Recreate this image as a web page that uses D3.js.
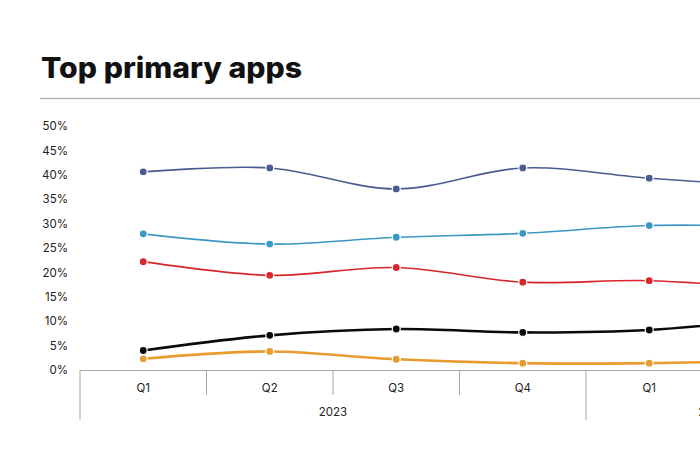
<!DOCTYPE html>
<html>
<head>
<meta charset="utf-8">
<script src="https://cdn.jsdelivr.net/npm/d3@7/dist/d3.min.js"></script>
<style>
  html, body { margin: 0; padding: 0; background: #fff; }
  svg { display: block; }
</style>
</head>
<body>
<svg id="chart" width="700" height="450"></svg>
<script>
// ---- data ----
const quarters = ["Q1", "Q2", "Q3", "Q4", "Q1", "Q2"];
const years = ["2023", "2023", "2023", "2023", "2024", "2024"];
const yearLabels = ["2023", "2024"];
const yTicks = [0, 5, 10, 15, 20, 25, 30, 35, 40, 45, 50];

const seriesBlue   = [40.6, 41.4, 37.1, 41.4, 39.3, 37.6];
const seriesCyan   = [27.9, 25.8, 27.2, 28.0, 29.6, 29.4];
const seriesRed    = [22.2, 19.4, 21.0, 18.0, 18.3, 16.6];
const seriesBlack  = [4.0, 7.1, 8.4, 7.7, 8.2, 10.6];
const seriesOrange = [2.3, 3.8, 2.2, 1.4, 1.4, 2.0];

const series = [
  { values: seriesBlue,   color: "#4a5b91", width: 1.6 },
  { values: seriesCyan,   color: "#3a98c2", width: 1.6 },
  { values: seriesRed,    color: "#d9262b", width: 1.6 },
  { values: seriesBlack,  color: "#0a0a0a", width: 2.6 },
  { values: seriesOrange, color: "#e89b2e", width: 2.6 }
];

// ---- layout ----
const svg = d3.select("#chart");
const plotLeft = 80, bandW = 126.5;
const plotTop = 126, plotBottom = 370;

svg.append("text")
  .attr("x", 41).attr("y", 78)
  .attr("font-family", "Inter, 'Noto Sans', sans-serif")
  .attr("font-weight", 800)
  .attr("font-size", 28)
  .attr("fill", "#111")
  .attr("textLength", 261)
  .attr("lengthAdjust", "spacingAndGlyphs")
  .text("Top primary apps");

svg.append("line")
  .attr("x1", 40).attr("x2", 700).attr("y1", 98.5).attr("y2", 98.5)
  .attr("stroke", "#b5b5b5").attr("stroke-width", 1.5);

const x = d3.scaleBand()
  .domain(d3.range(quarters.length))
  .range([plotLeft, plotLeft + bandW * quarters.length])
  .padding(0);

const y = d3.scaleLinear().domain([0, 50]).range([plotBottom, plotTop]);

// y axis labels
const yAxis = d3.axisLeft(y)
  .tickValues(yTicks)
  .tickSize(0)
  .tickPadding(0)
  .tickFormat(d => d + "%");
const yg = svg.append("g").attr("transform", "translate(68,0)").call(yAxis);
yg.select(".domain").remove();
yg.selectAll("text")
  .attr("font-family", "Inter, 'Noto Sans', sans-serif")
  .attr("font-size", 11.5)
  .attr("fill", "#222");

// x axis: quarter labels
const xAxis = d3.axisBottom(x).tickSize(0).tickPadding(0).tickFormat(i => quarters[i]);
const xg = svg.append("g").attr("transform", `translate(0,${plotBottom})`).call(xAxis);
xg.select(".domain").remove();
xg.selectAll("text")
  .attr("dy", "22")
  .attr("font-family", "Inter, 'Noto Sans', sans-serif")
  .attr("font-size", 11.5)
  .attr("fill", "#222");

// table lines
const gridColor = "#a8a8a8";
svg.append("line")
  .attr("x1", plotLeft).attr("x2", 700).attr("y1", plotBottom + 0.5).attr("y2", plotBottom + 0.5)
  .attr("stroke", gridColor).attr("stroke-width", 1.2);

d3.range(quarters.length + 1).forEach(i => {
  const xx = plotLeft + bandW * i;
  const isYearBoundary = i === 0 || i === quarters.length || years[i] !== years[i - 1];
  svg.append("line")
    .attr("x1", xx).attr("x2", xx)
    .attr("y1", plotBottom).attr("y2", isYearBoundary ? 420 : 395)
    .attr("stroke", gridColor).attr("stroke-width", 1);
});

// year labels
yearLabels.forEach(yr => {
  const idx = years.map((v, i) => v === yr ? i : -1).filter(i => i >= 0);
  const x0 = x(idx[0]);
  const x1 = x(idx[idx.length - 1]) + x.bandwidth();
  svg.append("text")
    .attr("x", (x0 + x1) / 2).attr("y", 416)
    .attr("text-anchor", "middle")
    .attr("font-family", "Inter, 'Noto Sans', sans-serif")
    .attr("font-size", 11.5)
    .attr("fill", "#222")
    .text(yr);
});

// lines
const cx = i => x(i) + x.bandwidth() / 2;
const line = d3.line()
  .x((d, i) => cx(i))
  .y(d => y(d))
  .curve(d3.curveCatmullRom.alpha(0.5));

series.forEach(s => {
  svg.append("path")
    .datum(s.values)
    .attr("d", line)
    .attr("fill", "none")
    .attr("stroke", s.color)
    .attr("stroke-width", s.width);
  svg.append("g").selectAll("circle")
    .data(s.values)
    .join("circle")
    .attr("cx", (d, i) => cx(i))
    .attr("cy", d => y(d))
    .attr("r", 4)
    .attr("fill", s.color)
    .attr("stroke", "#fff")
    .attr("stroke-width", 1.2);
});
</script>
</body>
</html>
